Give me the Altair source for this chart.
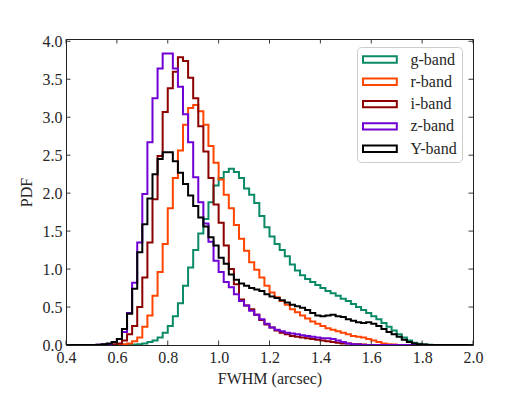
import altair as alt
import pandas as pd

FONT = "Liberation Serif"
TXT = "#262626"

BIN_START = 0.40
BIN_WIDTH = 0.02
N_BINS = 80

bands = ["g-band", "r-band", "i-band", "z-band", "Y-band"]
band_colors = ["#0b8a68", "#ff4500", "#8b0000", "#7000d4", "#000000"]

# PDF per 0.02-wide bin, first value belongs to the bin starting at *_first
g_first = 0.64
g_pdf = [0.003, 0.005, 0.01, 0.02, 0.04, 0.06, 0.10, 0.16, 0.25, 0.38, 0.55, 0.78,
         1.02, 1.25, 1.47, 1.66, 1.88, 2.10, 2.20, 2.28, 2.32, 2.28, 2.20, 2.06,
         1.98, 1.87, 1.70, 1.55, 1.43, 1.33, 1.25, 1.17, 1.06, 0.98, 0.92, 0.87,
         0.83, 0.79, 0.75, 0.71, 0.68, 0.65, 0.61, 0.58, 0.54, 0.50, 0.46, 0.42,
         0.38, 0.34, 0.29, 0.24, 0.19, 0.14, 0.10, 0.06, 0.03, 0.015, 0.008, 0.004]

r_first = 0.60
r_pdf = [0.005, 0.01, 0.02, 0.05, 0.10, 0.24, 0.39, 0.65, 0.96, 1.33, 1.80, 2.20,
         2.56, 2.90, 3.12, 3.16, 3.08, 2.90, 2.62, 2.40, 2.18, 1.98, 1.80, 1.58,
         1.40, 1.24, 1.09, 0.99, 0.89, 0.78, 0.69, 0.63, 0.58, 0.53, 0.47, 0.43,
         0.39, 0.35, 0.31, 0.28, 0.25, 0.22, 0.20, 0.18, 0.16, 0.14, 0.12, 0.11,
         0.10, 0.08, 0.06, 0.04, 0.02, 0.01, 0.005]

i_first = 0.56
i_pdf = [0.003, 0.01, 0.02, 0.06, 0.14, 0.25, 0.50, 0.89, 1.35, 1.92, 2.49, 3.07,
         3.38, 3.60, 3.79, 3.74, 3.52, 3.25, 2.88, 2.55, 2.20, 1.85, 1.61, 1.31,
         1.00, 0.80, 0.60, 0.52, 0.47, 0.40, 0.33, 0.27, 0.23, 0.19, 0.16, 0.14,
         0.12, 0.11, 0.10, 0.09, 0.08, 0.07, 0.06, 0.05, 0.04, 0.03, 0.02, 0.02,
         0.01, 0.01, 0.005]

z_first = 0.52
z_pdf = [0.003, 0.005, 0.01, 0.04, 0.08, 0.17, 0.42, 0.82, 1.35, 1.99, 2.67, 3.25,
         3.64, 3.84, 3.84, 3.64, 3.40, 3.04, 2.67, 2.21, 1.88, 1.60, 1.36, 1.11,
         0.96, 0.83, 0.76, 0.67, 0.58, 0.52, 0.45, 0.40, 0.34, 0.28, 0.23, 0.20,
         0.18, 0.16, 0.15, 0.14, 0.13, 0.12, 0.11, 0.10, 0.09, 0.09, 0.08, 0.06,
         0.04, 0.02, 0.01, 0.005]

y_first = 0.52
y_pdf = [0.003, 0.01, 0.02, 0.04, 0.08, 0.21, 0.41, 0.74, 1.22, 1.59, 1.93, 2.25,
         2.45, 2.54, 2.54, 2.42, 2.27, 2.12, 1.97, 1.83, 1.68, 1.56, 1.42, 1.31,
         1.15, 1.07, 0.93, 0.86, 0.81, 0.78, 0.75, 0.73, 0.71, 0.67, 0.64, 0.62,
         0.59, 0.56, 0.53, 0.51, 0.49, 0.46, 0.42, 0.39, 0.38, 0.39, 0.40, 0.38,
         0.37, 0.34, 0.32, 0.30, 0.29, 0.30, 0.28, 0.25, 0.21, 0.17, 0.14, 0.11,
         0.07, 0.04, 0.02, 0.01, 0.005]

x_ticks = [0.4, 0.6, 0.8, 1.0, 1.2, 1.4, 1.6, 1.8, 2.0]
y_ticks = [0.0, 0.5, 1.0, 1.5, 2.0, 2.5, 3.0, 3.5, 4.0]

series = {
    "g-band": (g_first, g_pdf),
    "r-band": (r_first, r_pdf),
    "i-band": (i_first, i_pdf),
    "z-band": (z_first, z_pdf),
    "Y-band": (y_first, y_pdf),
}

rows = []
for b in bands:
    first, vals = series[b]
    off = int(round((first - BIN_START) / BIN_WIDTH))
    full = [0.0] * N_BINS
    for j, v in enumerate(vals):
        full[off + j] = v
    for k in range(N_BINS):
        rows.append({"band": b, "x": round(BIN_START + k * BIN_WIDTH, 4), "pdf": full[k]})
    rows.append({"band": b, "x": round(BIN_START + N_BINS * BIN_WIDTH, 4), "pdf": 0.0})
df = pd.DataFrame(rows)

W, H = 407, 306
xs = alt.Scale(domain=[0.4, 2.0], nice=False, zero=False)
ys = alt.Scale(domain=[0, 4.03], nice=False)

x_axis = alt.Axis(values=x_ticks, format=".1f", ticks=False, domain=False, grid=False,
                  labelFlush=False,
                  labelFont=FONT, labelFontSize=16, labelColor=TXT, labelPadding=4,
                  title="FWHM (arcsec)", titleFont=FONT, titleFontSize=16,
                  titleFontWeight="normal", titleColor=TXT, titlePadding=5)
y_axis = alt.Axis(values=y_ticks, format=".1f", ticks=False, domain=False, grid=False,
                  labelFlush=False,
                  labelFont=FONT, labelFontSize=16, labelColor=TXT, labelPadding=4,
                  title="PDF", titleFont=FONT, titleFontSize=16,
                  titleFontWeight="normal", titleColor=TXT, titlePadding=8)

legend = alt.Legend(
    title=None, orient="none", legendX=291, legendY=8,
    symbolType="M-1,-0.49H4.2V0.49H-1Z", symbolSize=169, symbolStrokeWidth=2,
    symbolFillColor="white", labelFont=FONT, labelFontSize=16, labelColor=TXT,
    labelOffset=33, rowPadding=6.3, padding=4.5, fillColor="white",
    strokeColor="#cccccc", cornerRadius=4,
)
color = alt.Color("band:N", scale=alt.Scale(domain=bands, range=band_colors), legend=legend)

layers = []
for b in bands:
    layers.append(
        alt.Chart(df[df.band == b]).mark_line(interpolate="step-after", strokeWidth=2, clip=True)
        .encode(x=alt.X("x:Q", scale=xs, axis=x_axis),
                y=alt.Y("pdf:Q", scale=ys, axis=y_axis),
                color=color)
    )

tx = pd.DataFrame({"x": x_ticks})
ty = pd.DataFrame({"y": y_ticks})
TL = 4.5
tick_style = dict(color="#222222", strokeWidth=0.9)
bottom = alt.Chart(tx).mark_rule(**tick_style).encode(
    x=alt.X("x:Q", scale=xs, axis=x_axis), y=alt.value(H), y2=alt.value(H - TL))
top = alt.Chart(tx).mark_rule(**tick_style).encode(
    x=alt.X("x:Q", scale=xs, axis=x_axis), y=alt.value(0), y2=alt.value(TL))
left = alt.Chart(ty).mark_rule(**tick_style).encode(
    y=alt.Y("y:Q", scale=ys, axis=y_axis), x=alt.value(0), x2=alt.value(TL))
right = alt.Chart(ty).mark_rule(**tick_style).encode(
    y=alt.Y("y:Q", scale=ys, axis=y_axis), x=alt.value(W), x2=alt.value(W - TL))

chart = alt.layer(*layers, bottom, top, left, right).properties(
    width=W, height=H,
    padding={"left": 58, "top": 31, "right": 45, "bottom": 48},
    autosize=alt.AutoSizeParams(type="none"),
).configure_view(stroke="#222222", strokeWidth=1)

chart.save("out.html", embed_options={"renderer": "svg", "actions": False})
